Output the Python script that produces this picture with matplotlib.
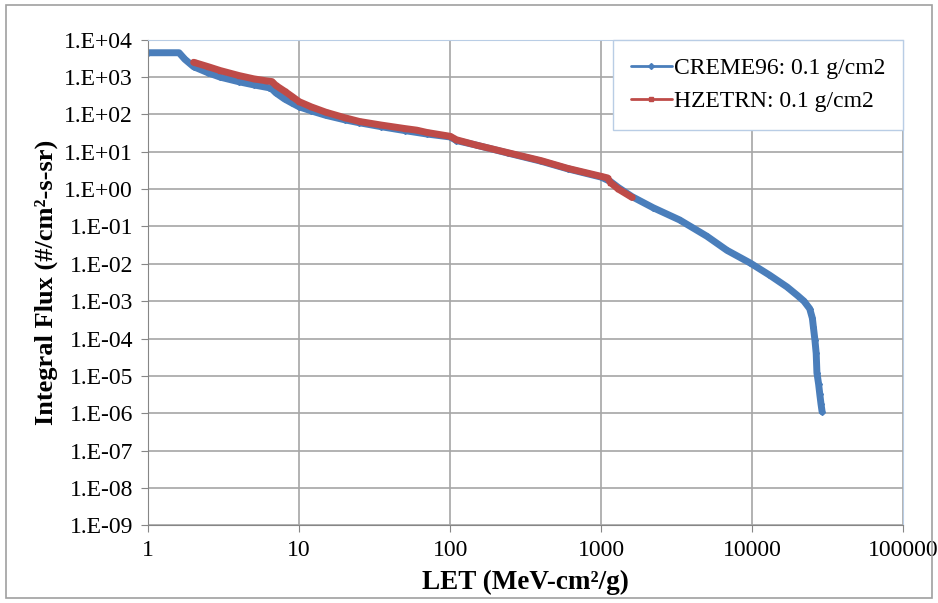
import numpy as np
from matplotlib import pyplot as plt
import matplotlib.ticker as mticker

plt.rcParams['font.family'] = ['Liberation Serif', 'DejaVu Serif']

# CREME96: 0.1 g/cm2
creme_let = [1, 1.6, 1.75, 2.0, 2.5, 3.0, 4.0, 5.0, 6.3, 6.6, 7.0, 8.0, 9.0, 10,
             12, 15, 20, 25, 35, 50, 70, 100, 110, 150, 240, 400, 600, 1000,
             1150, 1300, 1600, 2200, 3300, 5000, 6800, 9700, 13000, 17000,
             20000, 22000, 24000, 25000, 25400, 26000, 26500, 26800, 27500,
             28000, 28500, 29000]
creme_flux = [4500, 4500, 3000, 1900, 1300, 1000, 750, 620, 520, 480, 380, 260,
              200, 160, 125, 95, 72, 60, 47, 37, 30, 25, 20, 15, 9.3, 5.6, 3.5,
              2.1, 1.6, 1.1, 0.63, 0.32, 0.15, 0.055, 0.023, 0.0105, 0.005,
              0.0024, 0.0014, 0.001, 0.00063, 0.00035, 0.0002, 9e-5, 4e-5,
              1.2e-5, 6e-6, 3.2e-6, 1.8e-6, 1.1e-6]

# HZETRN: 0.1 g/cm2
hze_let = [2.0, 2.5, 3.0, 4.0, 5.0, 6.0, 6.6, 7.0, 8.0, 9.0, 10, 12, 15, 20,
           25, 35, 50, 60, 70, 100, 110, 150, 240, 400, 600, 1000, 1100, 1150,
           1300, 1600]
hze_flux = [2500, 1900, 1500, 1100, 900, 800, 760, 600, 420, 300, 220, 160,
            115, 82, 65, 52, 42, 38, 33, 26, 21, 15, 9.5, 5.8, 3.6, 2.2, 2.0,
            1.5, 1.0, 0.6]

fig = plt.figure(figsize=(9.38, 6.03), dpi=100)
ax1 = fig.add_axes([0.158, 0.129, 0.805, 0.805])

ax1.plot(creme_let, creme_flux, color='#4a7ebb', lw=5, marker='D', ms=3,
         label='CREME96: 0.1 g/cm2', solid_capstyle='round',
         solid_joinstyle='round')
ax1.plot(hze_let, hze_flux, color='#be4b48', lw=5, marker='s', ms=3,
         label='HZETRN: 0.1 g/cm2', solid_capstyle='round',
         solid_joinstyle='round')

ax1.set_xscale('log')
ax1.set_yscale('log')
ax1.set_xlim(1, 100000)
ax1.set_ylim(1e-9, 1e4)

ax1.xaxis.set_major_locator(mticker.LogLocator(base=10, numticks=10))
ax1.xaxis.set_minor_locator(mticker.NullLocator())
ax1.xaxis.set_major_formatter(mticker.FuncFormatter(lambda v, p: '%d' % round(v)))
ax1.yaxis.set_major_locator(mticker.LogLocator(base=10, numticks=20))
ax1.yaxis.set_minor_locator(mticker.NullLocator())
ax1.yaxis.set_major_formatter(mticker.FuncFormatter(
    lambda v, p: '1.E%+03d' % round(np.log10(v))))

ax1.grid(True, color='#a6a6a6', lw=1.2)
ax1.set_axisbelow(True)
ax1.tick_params(labelsize=17, length=5, color='#868686', pad=6)
for s in ['left', 'bottom']:
    ax1.spines[s].set_color('#868686')
for s in ['top', 'right']:
    ax1.spines[s].set_color('#b9cde5')

ax1.set_xlabel('LET (MeV-cm²/g)', fontsize=19.5, fontweight='bold', labelpad=6)
ax1.set_ylabel('Integral Flux (#/cm²-s-sr)', fontsize=19, fontweight='bold',
               labelpad=4)

leg = ax1.legend(loc='upper right', bbox_to_anchor=(1.0, 1.0), fontsize=17,
                 fancybox=False, framealpha=1, edgecolor='#b9cde5',
                 handlelength=1.75, handletextpad=0.1, borderpad=0.75,
                 labelspacing=0.5, borderaxespad=0)
leg.get_frame().set_linewidth(1)
for h in leg.get_lines():
    h.set_linewidth(2)

fig.patches.append(plt.Rectangle((0.006, 0.008), 0.988, 0.984, fill=False,
                                 edgecolor='#a0a0a0', lw=1.2,
                                 transform=fig.transFigure))

plt.savefig('out.png', dpi=100)
